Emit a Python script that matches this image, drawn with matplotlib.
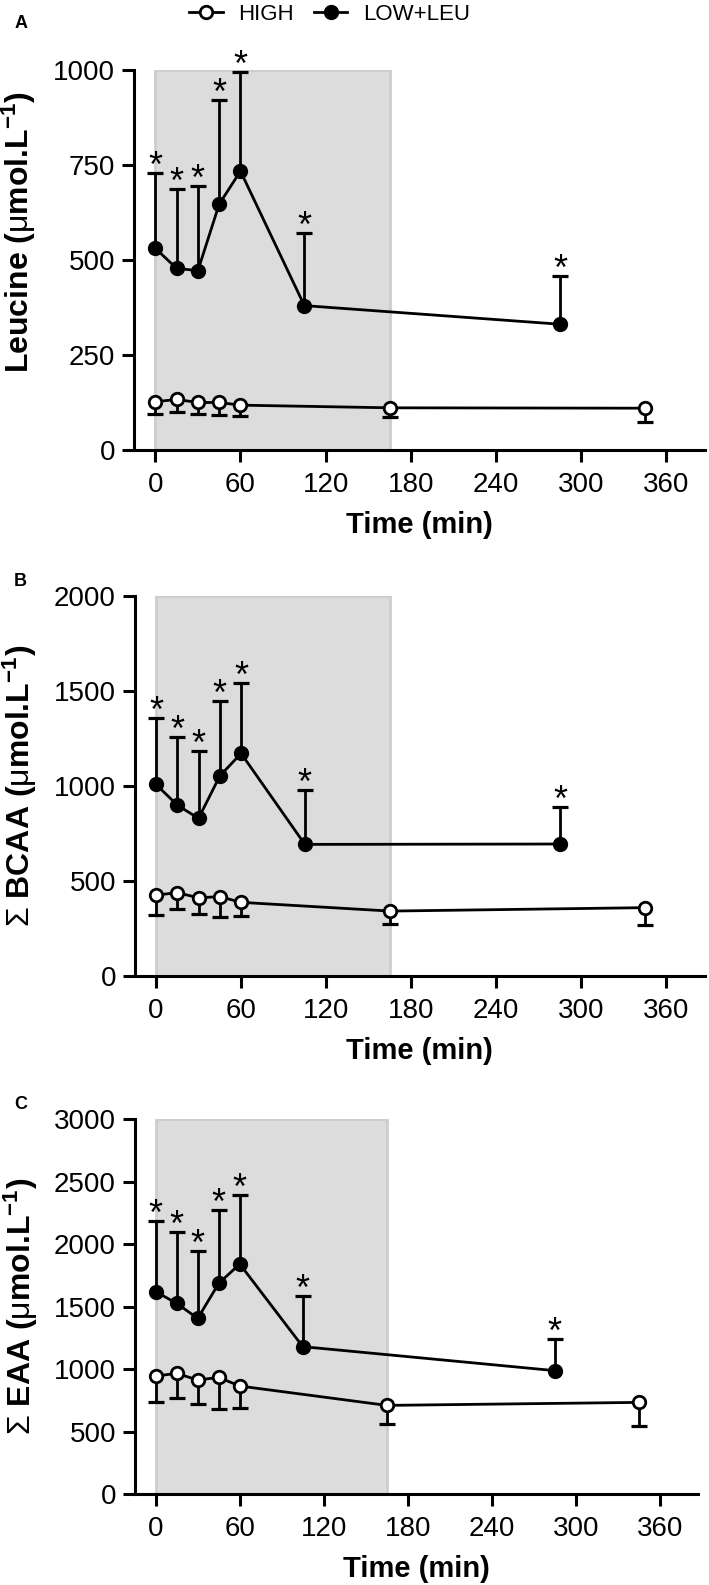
import matplotlib.pyplot as plt
from matplotlib.lines import Line2D

plt.rcParams['font.family'] = ['Liberation Sans', 'DejaVu Sans']
plt.rcParams['mathtext.fontset'] = 'custom'
plt.rcParams['mathtext.rm'] = 'Liberation Sans'
plt.rcParams['mathtext.it'] = 'Liberation Sans'
plt.rcParams['mathtext.bf'] = 'Liberation Sans:bold'

# sampling times (min)
time_high = [0, 15, 30, 45, 60, 165, 345]
time_low = [0, 15, 30, 45, 60, 105, 285]

# A: leucine
leu_high = [127, 133, 125, 125, 118, 111, 110]
leu_high_lo = [94, 101, 94, 92, 89, 86, 73]
leu_low = [531, 478, 472, 647, 734, 380, 331]
leu_low_hi = [728, 686, 695, 921, 994, 570, 458]

# B: sum BCAA
bcaa_high = [426, 439, 412, 418, 388, 342, 360]
bcaa_high_lo = [321, 351, 325, 312, 316, 272, 268]
bcaa_low = [1009, 900, 830, 1053, 1172, 693, 695]
bcaa_low_hi = [1360, 1258, 1184, 1447, 1544, 979, 888]

# C: sum EAA
eaa_high = [944, 965, 912, 933, 864, 709, 733]
eaa_high_lo = [733, 771, 720, 680, 685, 560, 547]
eaa_low = [1619, 1525, 1405, 1685, 1840, 1179, 987]
eaa_low_hi = [2187, 2093, 1944, 2272, 2392, 1587, 1240]

panel_letters = ['A', 'B', 'C']
ylabels = [r'Leucine ($\mu$mol.L$^{\mathbf{-1}}$)',
           r'$\Sigma$ BCAA ($\mu$mol.L$^{\mathbf{-1}}$)',
           r'$\Sigma$ EAA ($\mu$mol.L$^{\mathbf{-1}}$)']
ymax = [1000, 2000, 3000]
ystep = [250, 500, 500]
xticks = [0, 60, 120, 180, 240, 300, 360]
infusion_end = 165

panels = [
    (leu_high, leu_high_lo, leu_low, leu_low_hi),
    (bcaa_high, bcaa_high_lo, bcaa_low, bcaa_low_hi),
    (eaa_high, eaa_high_lo, eaa_low, eaa_low_hi),
]
# axes rectangles in figure fraction
rects = [
    [0.189, 0.7161, 0.805, 0.2397],
    [0.190, 0.3842, 0.804, 0.2397],
    [0.190, 0.0574, 0.794, 0.2366],
]
letter_y = [0.985, 0.633, 0.303]
ylabel_pos = [0.575, 0.5, 0.5]

lw = 2.0
fig = plt.figure(figsize=(7.09, 15.85), dpi=100)

for i, (hi, hi_lo, lo, lo_hi) in enumerate(panels):
    ax = fig.add_axes(rects[i])
    ax.axvspan(0, infusion_end, facecolor='#dcdcdc', edgecolor='#cdcdcd',
               linewidth=2, zorder=0)

    # HIGH: lower error bars
    ax.vlines(time_high, hi_lo, hi, color='black', lw=lw, zorder=2)
    ax.plot(time_high, hi_lo, ls='none', marker='_', ms=12, mew=2.3,
            color='black', zorder=2)
    ax.plot(time_high, hi, color='black', lw=lw, marker='o', ms=9,
            mfc='white', mec='black', mew=2, zorder=3)

    # LOW+LEU: upper error bars
    ax.vlines(time_low, lo, lo_hi, color='black', lw=lw, zorder=2)
    ax.plot(time_low, lo_hi, ls='none', marker='_', ms=12, mew=2.3,
            color='black', zorder=2)
    ax.plot(time_low, lo, color='black', lw=lw, marker='o', ms=10,
            mfc='black', mec='black', zorder=3)

    for t, top in zip(time_low, lo_hi):
        ax.annotate('*', xy=(t, top), xytext=(0, 4), textcoords='offset points',
                    ha='center', va='center', fontsize=26)

    ax.set_xlim(-15, 387)
    ax.set_ylim(0, ymax[i])
    ax.set_xticks(xticks)
    ax.set_yticks(range(0, ymax[i] + 1, ystep[i]))
    ax.spines['top'].set_visible(False)
    ax.spines['right'].set_visible(False)
    for s in ['left', 'bottom']:
        ax.spines[s].set_linewidth(2.2)
    ax.tick_params(width=2.2, length=8.5, labelsize=20)
    ax.tick_params(axis='x', pad=7.5)
    ax.tick_params(axis='y', pad=5)
    ax.set_xlabel('Time (min)', fontsize=21, fontweight='bold', labelpad=9)
    ax.set_ylabel(ylabels[i], fontsize=23, fontweight='bold')
    ax.yaxis.set_label_coords(-0.168, ylabel_pos[i])
    fig.text(0.02, letter_y[i], panel_letters[i], fontsize=13,
             fontweight='bold', va='center')

handles = [
    Line2D([], [], color='black', lw=lw, marker='o', ms=9, mfc='white',
           mec='black', mew=2),
    Line2D([], [], color='black', lw=lw, marker='o', ms=10, mfc='black'),
]
fig.legend(handles, ['HIGH', 'LOW+LEU'], loc='center',
           bbox_to_anchor=(0.465, 0.991), ncol=2, frameon=False, fontsize=16,
           handlelength=1.5, handletextpad=0.7, columnspacing=0.9)

fig.savefig('out.png', dpi=100)
